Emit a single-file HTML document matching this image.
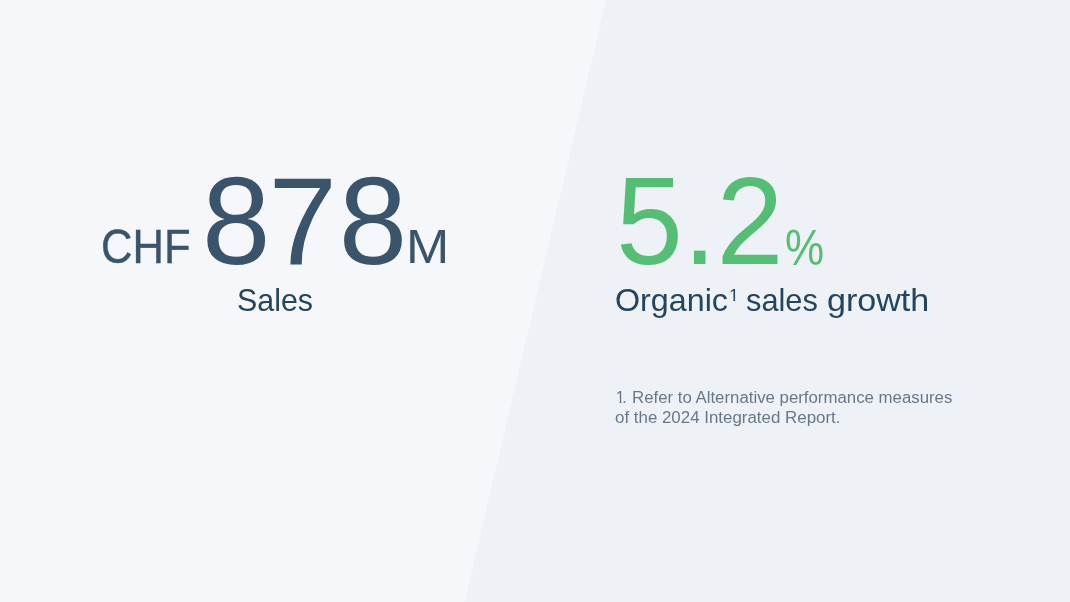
<!DOCTYPE html>
<html lang="en">
<head>
<meta charset="utf-8">
<title>Key figures</title>
<style>
  html,body{margin:0;padding:0;}
  body{width:1070px;height:602px;overflow:hidden;position:relative;background:#f5f7fb;
       font-family:"Liberation Sans",sans-serif;}
  #bg{position:absolute;left:0;top:0;width:1070px;height:602px;display:block;}
  #layer{position:absolute;left:0;top:0;width:1070px;height:602px;will-change:transform;}
  .t{position:absolute;white-space:nowrap;line-height:1;margin:0;transform-origin:0 0;}
  .sv{position:relative;left:-2px;}
  #chf{-webkit-text-stroke:0.4px currentColor;}
  .dark{color:#39546b;}
  .navy{color:#234560;}
  .green{color:#54bf74;}
  .grey{color:#68788a;}
  #chf{left:101.2px;top:222.2px;font-size:48.4px;transform:scaleX(0.9004);}
  #n878{left:201.9px;top:159.2px;font-size:124.6px;transform:scaleX(0.9873);}
  #m{left:406px;top:221.7px;font-size:48.4px;transform:scaleX(1.0722);}
  #sales{left:237.1px;top:285.2px;font-size:30.5px;transform:scaleX(0.9955);}
  #n52{left:615.9px;top:159.4px;font-size:124.6px;transform:scaleX(0.9661);}
  #pct{left:784.7px;top:223.5px;font-size:49.93px;transform:scaleX(0.8816);}
  #org1{left:614.6px;top:285.2px;font-size:30.5px;transform:scaleX(1.0573);}
  #sup{left:728.6px;top:287px;font-size:16.2px;transform:scaleX(1.1);clip-path:polygon(0 0,100% 0,100% 74%,62% 74%,62% 100%,44% 100%,44% 74%,0 74%);}
  #org2{left:746.4px;top:285.2px;font-size:30.5px;transform:scaleX(1.0097);}
  #org3{left:827px;top:285.2px;font-size:30.5px;transform:scaleX(1.117);}
  #fn0{left:615.8px;top:390px;font-size:16px;clip-path:polygon(0 0,100% 0,100% 100%,7.8px 100%,7.8px 11px,5.7px 11px,5.7px 100%,3.8px 100%,3.8px 11px,0 11px);}
  #fn0 span{letter-spacing:-2.4px;}
  #fn1{left:631.9px;top:390px;font-size:16px;transform:scaleX(1.0501);}
  #fn2{left:615.4px;top:410px;font-size:16px;transform:scaleX(1.056);}
</style>
</head>
<body>
<svg id="bg" width="1070" height="602" viewBox="0 0 1070 602">
  <rect width="1070" height="602" fill="#f5f7fb"/>
  <polygon points="606,0 1070,0 1070,602 464.5,602" fill="#eef2f6"/>
</svg>
<div id="layer">
<div class="t dark" id="chf">CHF</div>
<div class="t dark" id="n878">8<span class="sv">7</span>8</div>
<div class="t dark" id="m">M</div>
<div class="t navy" id="sales">Sales</div>
<div class="t green" id="n52">5.2</div>
<div class="t green" id="pct">%</div>
<div class="t navy" id="org1">Organic</div>
<div class="t navy" id="sup">1</div>
<div class="t navy" id="org2">sales</div>
<div class="t navy" id="org3">growth</div>
<div class="t grey" id="fn0"><span>1</span>.</div>
<div class="t grey" id="fn1">Refer to Alternative performance measures</div>
<div class="t grey" id="fn2">of the 2024 Integrated Report.</div>
</div>
</body>
</html>
